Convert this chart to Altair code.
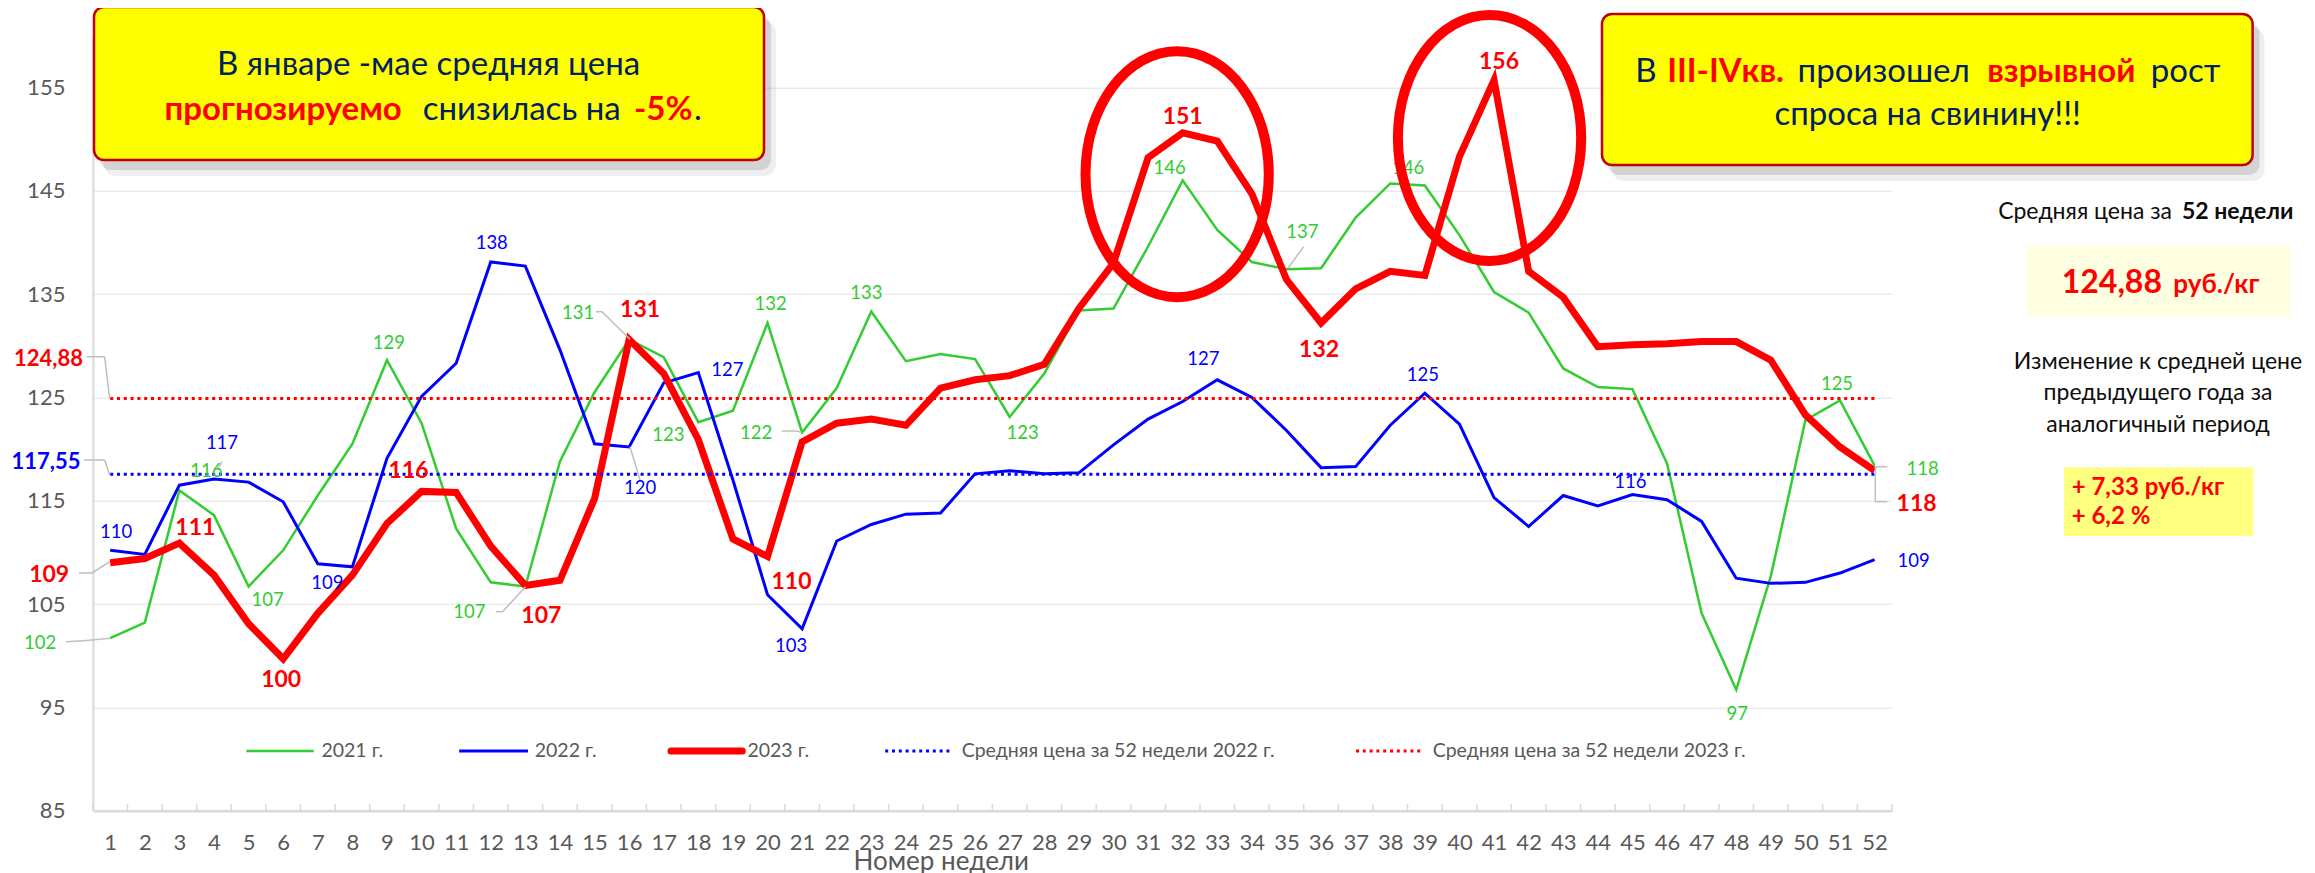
import altair as alt
import pandas as pd

# ---------------- data ----------------
weeks = list(range(1, 53))
price_2021 = [101.7, 103.2, 116.0, 113.6, 106.7, 110.2, 115.5, 120.5, 128.6, 122.5,
              112.3, 107.1, 106.7, 118.8, 125.5, 130.6, 128.9, 122.6, 123.7, 132.2,
              121.6, 125.9, 133.3, 128.5, 129.2, 128.7, 123.1, 127.3, 133.4, 133.6,
              139.6, 146.0, 141.2, 138.1, 137.4, 137.5, 142.4, 145.7, 145.5, 140.7,
              135.2, 133.2, 127.8, 126.0, 125.8, 118.6, 104.1, 96.7, 107.7, 122.8,
              124.7, 118.4]
price_2022 = [110.2, 109.8, 116.5, 117.1, 116.8, 114.9, 108.9, 108.6, 119.1, 125.1,
              128.3, 138.1, 137.7, 129.6, 120.5, 120.2, 126.4, 127.4, 117.0, 105.9,
              102.6, 111.1, 112.7, 113.7, 113.8, 117.6, 117.9, 117.6, 117.7, 120.4,
              122.9, 124.6, 126.7, 125.0, 121.8, 118.2, 118.3, 122.3, 125.4, 122.4,
              115.3, 112.5, 115.5, 114.5, 115.6, 115.1, 113.0, 107.5, 107.0, 107.1,
              108.0, 109.3]
price_2023 = [109.0, 109.4, 110.9, 107.8, 103.1, 99.7, 104.1, 107.8, 112.8, 115.9,
              115.8, 110.6, 106.8, 107.3, 115.2, 130.6, 127.3, 120.9, 111.3, 109.6,
              120.7, 122.5, 122.9, 122.3, 125.9, 126.7, 127.1, 128.2, 133.6, 138.0,
              148.2, 150.6, 149.8, 144.7, 136.4, 132.2, 135.5, 137.2, 136.8, 148.3,
              155.7, 137.2, 134.7, 129.9, 130.1, 130.2, 130.4, 130.4, 128.6, 123.3,
              120.2, 117.9]
avg_2022 = 117.55
avg_2023 = 124.88
y_ticks = [85, 95, 105, 115, 125, 135, 145, 155]
legend_names = ["2021 г.", "2022 г.", "2023 г.",
                "Средняя цена за 52 недели 2022 г.", "Средняя цена за 52 недели 2023 г."]

# labelled weeks (week, dx px, dy px) - placement only
green_labels = [(1, -70, 5), (3, 27, -19), (5, 19, 14), (9, 2, -17), (13, -56, 26), (16, -51, -27),
                (18, -30, 13), (20, 3, -19), (21, -46, 0), (23, -5, -19), (27, 13, 16), (32, -13, -12),
                (35, 16, -37), (38, 18, -15), (48, 1, 24), (51, -3, -16), (52, 48, 3)]
blue_labels = [(1, 6, -18), (4, 8, -36), (8, -25, 16), (12, 1, -19), (16, 11, 41), (18, 29, -3),
               (21, -11, 17), (33, -14, -21), (39, -2, -18), (45, -2, -13), (52, 39, 1)]
red_labels = [(1, -61, 12), (3, 16, -15), (6, -2, 21), (10, -13, -20), (13, 16, 31), (16, 11, -30),
              (20, 24, 25), (32, 0, -16), (36, -2, 27), (41, 5, -18), (52, 42, 33)]

# ---------------- layout ----------------
FONT = "Lato"
GREEN, BLUE, RED = "#33CC33", "#0000FF", "#FF0000"
NAVY, GRAY, INK = "#002060", "#595959", "#0D0D0D"
W, H = 1799, 775
OX, OY = 92.9, 35.7
PXW, PXV = W / 52.0, H / 75.0

xsc = alt.Scale(domain=[0.5, 52.5], nice=False, zero=False)
ysc = alt.Scale(domain=[85, 160], nice=False, zero=False)
xaxis = alt.Axis(values=weeks, format="d", labelFontSize=22, labelColor=GRAY, labelFont=FONT,
                 ticks=False, labelPadding=22, domainColor="#D9D9D9", domainWidth=2.5, grid=False,
                 title=None, labelOverlap=False, labelFlush=False, labelBound=False)
yaxis = alt.Axis(values=y_ticks, labelFontSize=22, labelColor=GRAY, labelFont=FONT, ticks=False,
                 labelPadding=28, domainColor="#D9D9D9", domainWidth=2, grid=True,
                 gridColor="#EBEBEB", gridWidth=1.5, title=None)


def X(f):
    return alt.X(f"{f}:Q", scale=xsc, axis=xaxis)


def Y(f):
    return alt.Y(f"{f}:Q", scale=ysc, axis=yaxis)


def px(x):
    return x - OX


def py(y):
    return y - OY


one = pd.DataFrame({"k": [0]})


def text_at(x, y, s, size, color, bold=False, align="center", baseline="middle"):
    return alt.Chart(pd.DataFrame({"t": [s]})).mark_text(
        fontSize=size, color=color, fontWeight="bold" if bold else "normal",
        align=align, baseline=baseline, font=FONT
    ).encode(x=alt.value(px(x)), y=alt.value(py(y)), text="t:N")


def rect_at(x1, y1, x2, y2, fill, stroke=None, sw=0, r=0, opacity=1.0):
    kw = dict(fill=fill, cornerRadius=r, opacity=opacity)
    if stroke:
        kw.update(stroke=stroke, strokeWidth=sw)
    return alt.Chart(one).mark_rect(**kw).encode(
        x=alt.value(px(x1)), x2=alt.value(px(x2)), y=alt.value(py(y1)), y2=alt.value(py(y2)))


def seg(x1, y1, x2, y2, color, w, dash=None, cap="butt"):
    kw = dict(color=color, strokeWidth=w, strokeCap=cap)
    if dash:
        kw["strokeDash"] = dash
    return alt.Chart(one).mark_rule(**kw).encode(
        x=alt.value(px(x1)), x2=alt.value(px(x2)), y=alt.value(py(y1)), y2=alt.value(py(y2)))


layers = []

# tick marks between weeks
tick_df = pd.DataFrame({"tx": [w + 0.5 for w in range(0, 53)], "y0": 85, "y1": 85.65})
layers.append(alt.Chart(tick_df).mark_rule(color="#D9D9D9", strokeWidth=1.5).encode(
    x=X("tx"), y=Y("y0"), y2="y1:Q"))

# series lines
for arr, color, sw in [(price_2021, GREEN, 2.5), (price_2022, BLUE, 3), (price_2023, RED, 7)]:
    d = pd.DataFrame({"week": weeks, "price": arr})
    layers.append(alt.Chart(d).mark_line(color=color, strokeWidth=sw).encode(x=X("week"), y=Y("price")))

# average lines
for avg, color in [(avg_2022, BLUE), (avg_2023, RED)]:
    d = pd.DataFrame({"week": [weeks[0], weeks[-1]], "price": [avg, avg]})
    layers.append(alt.Chart(d).mark_line(color=color, strokeWidth=3, strokeDash=[3, 3.8]).encode(
        x=X("week"), y=Y("price")))

# leader lines (page pixels)
leaders = [
    [(86.7, 356.7), (104.6, 356.7), (109.7, 398.3)],
    [(84, 460), (104.6, 460), (109.7, 475)],
    [(66, 641.7), (84, 640.7), (109.7, 638.3)],
    [(79, 573), (92, 573), (109.7, 561.7)],
    [(496, 611.7), (502.6, 611.7), (525.5, 586.7)],
    [(596, 311.7), (602, 311.7), (630, 339.3)],
    [(640, 480), (630, 446.7)],
    [(781.7, 431), (796.7, 431), (802.3, 432.7)],
    [(1303.6, 246.7), (1288, 268.3)],
    [(1875.3, 466.7), (1875.3, 501.7), (1887.2, 501.7)],
    [(1875.3, 466.7), (1887.2, 466.7)],
    [(222, 461.7), (216.8, 470)],
]
for pts in leaders:
    for (a, b), (c, d) in zip(pts[:-1], pts[1:]):
        layers.append(seg(a, b, c, d, "#BFBFBF", 1.5))

# data labels
for arr, labs, color, bold, size in [(price_2021, green_labels, GREEN, False, 18.5),
                                     (price_2022, blue_labels, BLUE, False, 18.5),
                                     (price_2023, red_labels, RED, True, 23)]:
    d = pd.DataFrame({
        "lx": [w + dx / PXW for w, dx, dy in labs],
        "ly": [arr[w - 1] - dy / PXV for w, dx, dy in labs],
        "t": [str(int(round(arr[w - 1]))) for w, dx, dy in labs],
    })
    layers.append(alt.Chart(d).mark_text(color=color, fontSize=size, font=FONT,
                                         fontWeight="bold" if bold else "normal",
                                         baseline="middle", align="center").encode(
        x=X("lx"), y=Y("ly"), text="t:N"))

# average value labels
layers.append(text_at(48.5, 359.3, f"{avg_2023:.2f}".replace(".", ","), 22, RED, bold=True))
layers.append(text_at(46, 461.7, f"{avg_2022:.2f}".replace(".", ","), 22, BLUE, bold=True))

# legend
leg = [(246.4, 313.8, 321.4, GREEN, 2.5, None), (459.2, 528, 534.7, BLUE, 3, None),
       (671, 742.3, 747.4, RED, 7, None), (885.2, 950, 961.7, BLUE, 3, [3, 3.8]),
       (1356, 1421, 1432.7, RED, 3, [3, 3.8])]
for (a, b, tx, c, sw, dash), name in zip(leg, legend_names):
    layers.append(seg(a, 751, b, 751, c, sw, dash=dash, cap="round" if sw > 5 else "butt"))
    layers.append(text_at(tx, 751, name, 19.5, GRAY, align="left"))

# ellipses around peaks
a, k = 0.745, 0.5523
ell_path = (f"M {a} 0 C {a} {k} {a*k:.4f} 1 0 1 C {-a*k:.4f} 1 {-a} {k} {-a} 0 "
            f"C {-a} {-k} {-a*k:.4f} -1 0 -1 C {a*k:.4f} -1 {a} {-k} {a} 0 Z")
ell_df = pd.DataFrame({"cx": [31.84, 40.87], "cy": [146.6, 150.1]})
layers.append(alt.Chart(ell_df).mark_point(shape=ell_path, size=246 ** 2, filled=False, stroke=RED,
                                           strokeWidth=10, opacity=1).encode(x=X("cx"), y=Y("cy")))

# annotation boxes with shadows
for (x1, y1, x2, y2) in [(94, 7, 764, 160), (1602, 14, 2252.6, 165)]:
    layers.append(rect_at(x1 + 10, y1 + 14, x2 + 12, y2 + 16, "#7F7F7F", r=12, opacity=0.12))
    layers.append(rect_at(x1 + 6, y1 + 9, x2 + 7, y2 + 10, "#7F7F7F", r=11, opacity=0.25))
    layers.append(rect_at(x1, y1, x2, y2, "#FFFF00", stroke="#C00000", sw=2.5, r=10))

BS = 33
layers.append(text_at(428.6, 65, "В январе -мае средняя цена", BS, NAVY))
layers.append(text_at(283.2, 110, "прогнозируемо", BS, RED, bold=True))
layers.append(text_at(521.7, 110, "снизилась на", BS, NAVY))
layers.append(text_at(663.3, 110, "-5%", BS, RED, bold=True))
layers.append(text_at(694, 110, ".", BS, NAVY, align="left"))

layers.append(text_at(1646, 72, "В", BS, NAVY))
layers.append(text_at(1725.6, 72, "III-IVкв.", BS, RED, bold=True))
layers.append(text_at(1883.7, 72, "произошел", BS, NAVY))
layers.append(text_at(2061.3, 72, "взрывной", BS, RED, bold=True))
layers.append(text_at(2185.5, 72, "рост", BS, NAVY))
layers.append(text_at(1927.7, 115, "спроса на свинину!!!", BS, NAVY))

# right panel
layers.append(text_at(2172, 211.7, "Средняя цена за", 23, INK, align="right"))
layers.append(text_at(2181.9, 211.7, "52 недели", 23, INK, bold=True, align="left"))
layers.append(rect_at(2026.7, 245, 2290.7, 317.3, "#FFFFE1"))
layers.append(text_at(2061.7, 293, f"{avg_2023:.2f}".replace(".", ","), 32, RED, bold=True,
                      align="left", baseline="alphabetic"))
layers.append(text_at(2173.3, 293, "руб./кг", 26, RED, bold=True, align="left", baseline="alphabetic"))
layers.append(text_at(2158, 361.7, "Изменение к средней цене", 23, INK))
layers.append(text_at(2158, 393.3, "предыдущего года за", 23, INK))
layers.append(text_at(2158, 425, "аналогичный период", 23, INK))
layers.append(rect_at(2064, 467.3, 2253.3, 536, "#FFFF80"))
layers.append(text_at(2071.7, 488.3, "+ 7,33 руб./кг", 24, RED, bold=True, align="left"))
layers.append(text_at(2071.7, 517.3, "+ 6,2 %", 24, RED, bold=True, align="left"))

# axis title
layers.append(text_at(941.3, 862, "Номер недели", 26, GRAY))

TOTAL_W, TOTAL_H = 2299, 865
chart = alt.layer(*layers).properties(
    width=W, height=H,
    autosize=alt.AutoSizeParams(type="none"),
    padding={"left": OX - 8, "top": OY - 8, "right": TOTAL_W - (OX - 8) - W,
             "bottom": TOTAL_H - (OY - 8) - H},
    background="white",
).configure(font=FONT).configure_view(stroke=None)

chart.save("out.html", embed_options={"renderer": "svg", "actions": False})
